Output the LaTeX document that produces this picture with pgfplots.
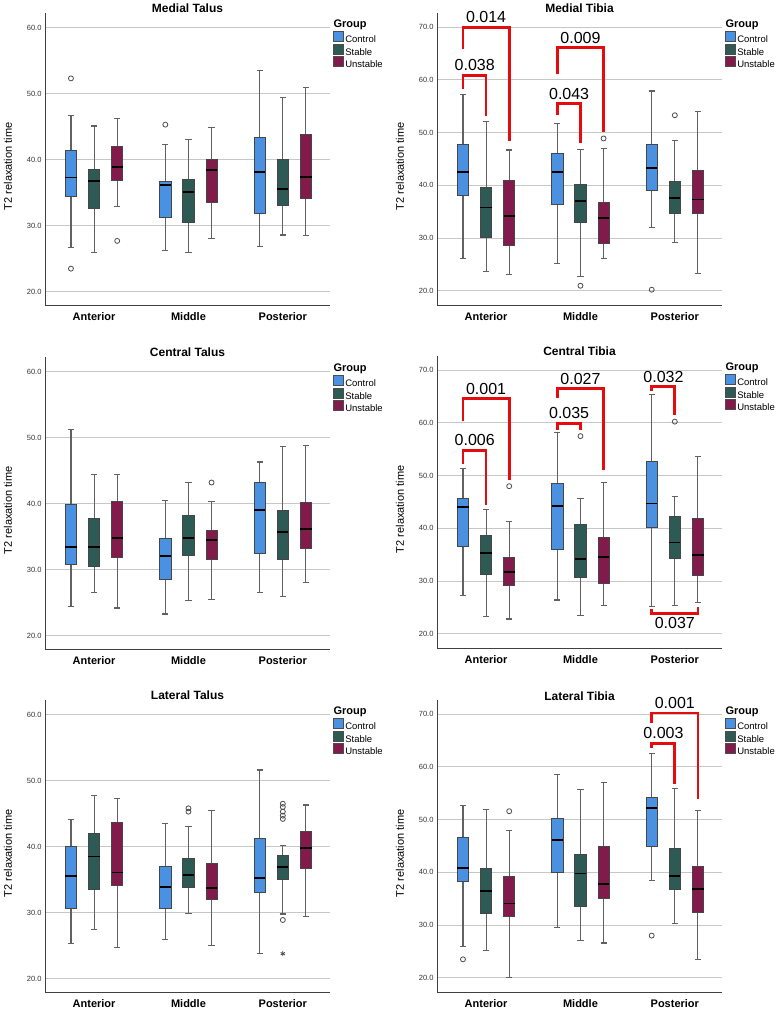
\documentclass[border=0pt]{standalone}
\usepackage{fontspec}
\setmainfont{Liberation Sans}
\usepackage{pgfplots}
\pgfplotsset{compat=1.18}
\usepgfplotslibrary{statistics}
\definecolor{ctrl}{RGB}{75,145,226}
\definecolor{stab}{RGB}{46,90,86}
\definecolor{unst}{RGB}{130,27,76}
\definecolor{pred}{RGB}{228,12,12}
\definecolor{bedge}{RGB}{70,70,70}
\pgfplotsset{
 panel/.style={
   scale only axis, width=285pt, height=292pt,
   xmin=-0.52, xmax=2.5,
   xtick={0,1,2}, xticklabels={Anterior,Middle,Posterior},
   axis lines*=left,
   axis line style={black!75, line width=0.8pt},
   major tick length=0pt,
   ymajorgrids, grid style={black!22, line width=1.1pt},
   clip=false,
   /pgf/number format/assume math mode=true,
   yticklabel style={font=\fontsize{7.5}{9}\selectfont, text=black!80, /pgf/number format/.cd, fixed, fixed zerofill, precision=1},
   xticklabel style={font=\bfseries\fontsize{11}{13}\selectfont, yshift=-4pt},
   title style={font=\bfseries\fontsize{12}{14}\selectfont, at={(axis description cs:0.5,1)}, anchor=base, yshift=-6pt, inner sep=0pt},
   every axis y label/.style={at={(axis description cs:-0.13,0.475)}, rotate=90, anchor=center, font=\fontsize{11}{13}\selectfont},
   ylabel={T2 relaxation time},
   boxplot/draw direction=y,
   boxplot/box extend=0.12,
   boxplot/whisker extend=0.065,
   boxplot/every whisker/.style={draw=black!62, line width=1.1pt},
   boxplot/every median/.style={draw=black, line width=1.8pt},
   legend style={draw=none, fill=none, at={(axis description cs:1.0105,0.938)}, anchor=north west, font=\fontsize{9.5}{11}\selectfont, inner sep=0pt, row sep=-1.5pt, column sep=1.5pt, nodes={inner sep=0pt, text height=8pt, text depth=2.5pt}},
   legend cell align=left,
   legend image code/.code={\draw[##1, draw=black!70, line width=0.6pt] (0pt,-1.5pt) rectangle (10pt,8.5pt);},
 },
 talus/.style={panel, ymin=18, ymax=62.2, ytick={20,30,40,50,60}},
 tibia/.style={panel, ymin=17.3, ymax=72.7, ytick={20,30,40,50,60,70}},
 cb/.style={boxplot/every box/.style={draw=bedge, fill=ctrl, line width=0.8pt}},
 sb/.style={boxplot/every box/.style={draw=bedge, fill=stab, line width=0.8pt}},
 ub/.style={boxplot/every box/.style={draw=bedge, fill=unst, line width=0.8pt}},
 outl/.style={only marks, mark=o, mark size=2.5pt, draw=black!70, line width=0.8pt},
 brk/.style={draw=pred, line width=2.8pt, mark=none},
}
\tikzset{
 pv/.style={font=\fontsize{16}{18}\selectfont, anchor=base, yshift=4.5pt, inner sep=0pt},
 pvb/.style={font=\fontsize{16}{18}\selectfont, anchor=north, yshift=-3.5pt, inner sep=0pt},
 grp/.style={anchor=west, font=\bfseries\fontsize{11}{13}\selectfont, inner sep=0pt},
}
\newcommand{\BoxP}[7]{\addplot[#1, boxplot prepared={draw position=#2, lower whisker=#3, lower quartile=#4, median=#5, upper quartile=#6, upper whisker=#7}] coordinates {};}
\newcommand{\LegG}{\addlegendimage{fill=ctrl}\addlegendimage{fill=stab}\addlegendimage{fill=unst}\legend{Control,Stable,Unstable}\node[grp] at (axis description cs:1.012,0.959) {Group};}
\begin{document}
\begin{tikzpicture}
\useasboundingbox (0,0) rectangle (776pt,1010pt);
% ---------------- Medial Talus
\begin{axis}[talus, at={(45pt,705pt)}, title={Medial Talus}]
\LegG
\BoxP{cb}{-0.245}{26.7}{34.5}{37.3}{41.4}{46.7}
\BoxP{sb}{0}{26.0}{32.6}{36.8}{38.5}{45.1}
\BoxP{ub}{0.245}{32.9}{36.9}{38.9}{42.0}{46.2}
\BoxP{cb}{0.755}{26.2}{31.3}{36.15}{36.65}{42.3}
\BoxP{sb}{1}{26.0}{30.5}{35.15}{37.05}{43.0}
\BoxP{ub}{1.245}{28.0}{33.6}{38.4}{40.0}{44.9}
\BoxP{cb}{1.755}{26.9}{31.8}{38.1}{43.3}{53.5}
\BoxP{sb}{2}{28.6}{33.0}{35.55}{40.1}{49.4}
\BoxP{ub}{2.245}{28.5}{34.2}{37.35}{43.75}{50.9}
\addplot[outl] coordinates {(-0.245,52.3) (-0.245,23.5) (0.245,27.7) (0.755,45.3)};
\end{axis}
% ---------------- Medial Tibia
\begin{axis}[tibia, at={(437pt,705pt)}, title={Medial Tibia}]
\LegG
\BoxP{cb}{-0.245}{26.2}{38.0}{42.6}{47.7}{57.2}
\BoxP{sb}{0}{23.7}{30.05}{35.8}{39.6}{52.05}
\BoxP{ub}{0.245}{23.0}{28.7}{34.2}{40.9}{46.7}
\BoxP{cb}{0.755}{25.2}{36.4}{42.6}{46.0}{51.8}
\BoxP{sb}{1}{22.65}{33.0}{37.1}{40.2}{46.8}
\BoxP{ub}{1.245}{26.1}{28.9}{33.85}{36.8}{47.0}
\BoxP{cb}{1.755}{32.0}{39.1}{43.3}{47.8}{57.9}
\BoxP{sb}{2}{29.1}{34.6}{37.6}{40.7}{48.5}
\BoxP{ub}{2.245}{23.35}{34.6}{37.3}{42.9}{54.0}
\addplot[outl] coordinates {(1,20.95) (1.245,48.9) (1.755,20.2) (2,53.3)};
\addplot[brk] coordinates {(-0.245,58.2) (-0.245,60.9) (0,60.9) (0,53.1)};
\addplot[brk] coordinates {(-0.245,65.8) (-0.245,70.0) (0.245,70.0) (0.245,48.4)};
\addplot[brk] coordinates {(0.755,53.3) (0.755,55.5) (1,55.5) (1,48.0)};
\addplot[brk] coordinates {(0.755,61.1) (0.755,66.1) (1.245,66.1) (1.245,50.2)};
\node[pv] at (axis cs:-0.12,60.9) {0.038};
\node[pv] at (axis cs:0,70.0) {0.014};
\node[pv] at (axis cs:0.88,55.5) {0.043};
\node[pv] at (axis cs:1,66.1) {0.009};
\end{axis}
% ---------------- Central Talus
\begin{axis}[talus, at={(45pt,361pt)}, title={Central Talus}]
\LegG
\BoxP{cb}{-0.245}{24.4}{30.75}{33.4}{39.85}{51.2}
\BoxP{sb}{0}{26.6}{30.55}{33.4}{37.8}{44.4}
\BoxP{ub}{0.245}{24.2}{31.8}{34.8}{40.35}{44.4}
\BoxP{cb}{0.755}{23.3}{28.6}{32.1}{34.8}{40.5}
\BoxP{sb}{1}{25.3}{32.1}{34.8}{38.2}{43.2}
\BoxP{ub}{1.245}{25.45}{31.5}{34.45}{36.0}{40.35}
\BoxP{cb}{1.755}{26.5}{32.4}{39.0}{43.2}{46.3}
\BoxP{sb}{2}{25.9}{31.55}{35.7}{39.0}{48.6}
\BoxP{ub}{2.245}{28.0}{33.3}{36.2}{40.15}{48.8}
\addplot[outl] coordinates {(1.245,43.2)};
\end{axis}
% ---------------- Central Tibia
\begin{axis}[tibia, at={(437pt,362pt)}, title={Central Tibia}]
\LegG
\BoxP{cb}{-0.245}{27.2}{36.6}{44.1}{45.6}{51.3}
\BoxP{sb}{0}{23.3}{31.3}{35.3}{38.7}{43.5}
\BoxP{ub}{0.245}{22.8}{29.2}{31.7}{34.4}{41.3}
\BoxP{cb}{0.755}{26.4}{36.0}{44.2}{48.5}{58.1}
\BoxP{sb}{1}{23.4}{30.7}{34.2}{40.7}{45.7}
\BoxP{ub}{1.245}{25.4}{29.6}{34.6}{38.3}{48.7}
\BoxP{cb}{1.755}{25.2}{40.2}{44.7}{52.7}{65.4}
\BoxP{sb}{2}{25.3}{34.3}{37.3}{42.2}{46.1}
\BoxP{ub}{2.245}{25.9}{31.0}{34.9}{41.8}{53.7}
\addplot[outl] coordinates {(0.245,48.0) (1,57.5) (2,60.25)};
\addplot[brk] coordinates {(-0.245,52.2) (-0.245,54.8) (0,54.8) (0,44.4)};
\addplot[brk] coordinates {(-0.245,60.3) (-0.245,64.6) (0.245,64.6) (0.245,49.2)};
\addplot[brk] coordinates {(0.755,58.7) (0.755,59.9) (1,59.9) (1,58.7)};
\addplot[brk] coordinates {(0.755,64.8) (0.755,66.5) (1.245,66.5) (1.245,51.1)};
\addplot[brk] coordinates {(1.755,66.05) (1.755,66.9) (2,66.9) (2,61.6)};
\addplot[brk] coordinates {(1.755,24.65) (1.755,23.9) (2.245,23.9) (2.245,25.0)};
\node[pv] at (axis cs:-0.12,54.8) {0.006};
\node[pv] at (axis cs:0,64.6) {0.001};
\node[pv] at (axis cs:0.88,59.9) {0.035};
\node[pv] at (axis cs:1,66.5) {0.027};
\node[pv] at (axis cs:1.88,66.9) {0.032};
\node[pvb] at (axis cs:2,23.9) {0.037};
\end{axis}
% ---------------- Lateral Talus
\begin{axis}[talus, at={(45pt,18pt)}, title={Lateral Talus}]
\LegG
\BoxP{cb}{-0.245}{25.4}{30.7}{35.6}{40.1}{44.1}
\BoxP{sb}{0}{27.5}{33.5}{38.5}{42.0}{47.7}
\BoxP{ub}{0.245}{24.7}{34.1}{36.1}{43.65}{47.3}
\BoxP{cb}{0.755}{26.0}{30.6}{33.9}{37.0}{43.45}
\BoxP{sb}{1}{29.9}{33.8}{35.7}{38.2}{43.0}
\BoxP{ub}{1.245}{25.1}{32.0}{33.8}{37.4}{45.5}
\BoxP{cb}{1.755}{23.8}{33.1}{35.3}{41.3}{51.6}
\BoxP{sb}{2}{29.8}{35.0}{36.95}{38.7}{40.2}
\BoxP{ub}{2.245}{29.45}{36.7}{39.8}{42.25}{46.3}
\addplot[outl] coordinates {(1,45.8) (1,45.3) (2,46.5) (2,46.0) (2,45.3) (2,44.7) (2,44.2) (2,28.9)};
\addplot[only marks, mark=asterisk, mark size=2.5pt, draw=black!70, line width=0.8pt] coordinates {(2,23.8)};
\end{axis}
% ---------------- Lateral Tibia
\begin{axis}[tibia, at={(437pt,18pt)}, title={Lateral Tibia}]
\LegG
\BoxP{cb}{-0.245}{26.0}{38.3}{40.9}{46.55}{52.7}
\BoxP{sb}{0}{25.2}{32.3}{36.5}{40.7}{52.0}
\BoxP{ub}{0.245}{20.1}{31.6}{34.1}{39.3}{48.0}
\BoxP{cb}{0.755}{29.6}{40.0}{46.2}{50.3}{58.6}
\BoxP{sb}{1}{27.1}{33.6}{39.8}{43.5}{55.8}
\BoxP{ub}{1.245}{26.6}{35.1}{37.8}{45.0}{57.1}
\BoxP{cb}{1.755}{38.5}{44.9}{52.2}{54.3}{62.6}
\BoxP{sb}{2}{30.3}{36.8}{39.3}{44.5}{55.9}
\BoxP{ub}{2.245}{23.5}{32.4}{36.9}{41.1}{51.8}
\addplot[outl] coordinates {(-0.245,23.5) (0.245,51.6) (1.755,28.0)};
\addplot[brk] coordinates {(1.755,63.6) (1.755,64.5) (2,64.5) (2,56.7)};
\addplot[brk] coordinates {(1.755,68.4) (1.755,70.25) (2.245,70.25) (2.245,53.9)};
\node[pv] at (axis cs:1.88,64.5) {0.003};
\node[pv] at (axis cs:2,70.25) {0.001};
\end{axis}
\end{tikzpicture}
\end{document}
